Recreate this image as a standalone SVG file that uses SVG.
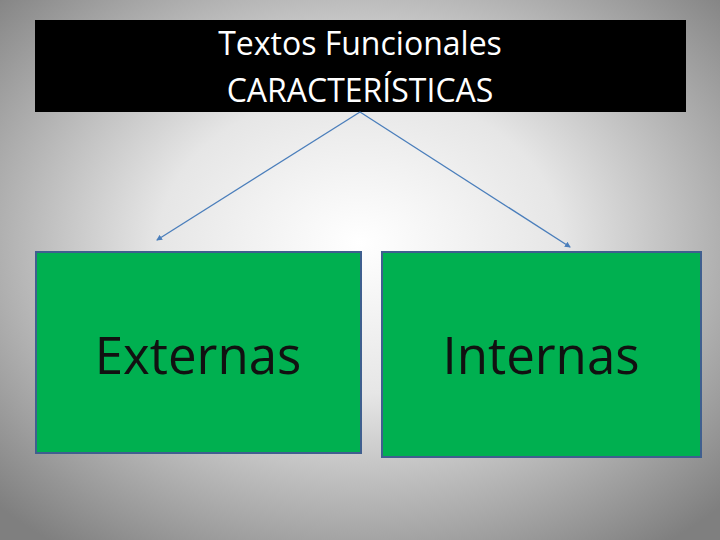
<svg xmlns="http://www.w3.org/2000/svg" width="720" height="540" viewBox="0 0 720 540">
<defs>
<radialGradient id="bg" cx="50%" cy="45%" r="70%">
<stop offset="0" stop-color="#ffffff"/><stop offset="0.4" stop-color="#e6e6e6"/><stop offset="1" stop-color="#7f7f7f"/>
</radialGradient>
<marker id="ah" markerWidth="6" markerHeight="6" refX="5" refY="3" orient="auto" markerUnits="userSpaceOnUse"><path d="M0,0 L6,3 L0,6 z" fill="#4a7ebb"/></marker>
<style>
.box{fill:#00b050;stroke:#3f5f8f;stroke-width:2}
.big{font-family:'Open Sans','Liberation Sans',sans-serif;font-size:51px;fill:#111;text-anchor:middle}
.title{font-family:'Open Sans','Liberation Sans',sans-serif;font-size:32px;fill:#fff;text-anchor:middle}
.conn{stroke:#4a7ebb;stroke-width:1.3;fill:none;marker-end:url(#ah)}
</style>
</defs>
<rect width="720" height="540" fill="url(#bg)"/>
<g id="title"><rect x="35" y="20" width="651" height="92" fill="#000"/>
<text class="title" x="360" y="55">Textos Funcionales</text>
<text class="title" x="360" y="102">CARACTERÍSTICAS</text></g>
<g id="connectors">
<line class="conn" x1="360" y1="112" x2="157" y2="240"/>
<line class="conn" x1="360" y1="112" x2="570" y2="247"/>
</g>
<g id="externas"><rect class="box" x="36" y="252" width="325" height="201"/>
<text class="big" x="198" y="374">Externas</text></g>
<g id="internas"><rect class="box" x="382" y="252" width="319" height="205"/>
<text class="big" x="541" y="374">Internas</text></g>
</svg>
